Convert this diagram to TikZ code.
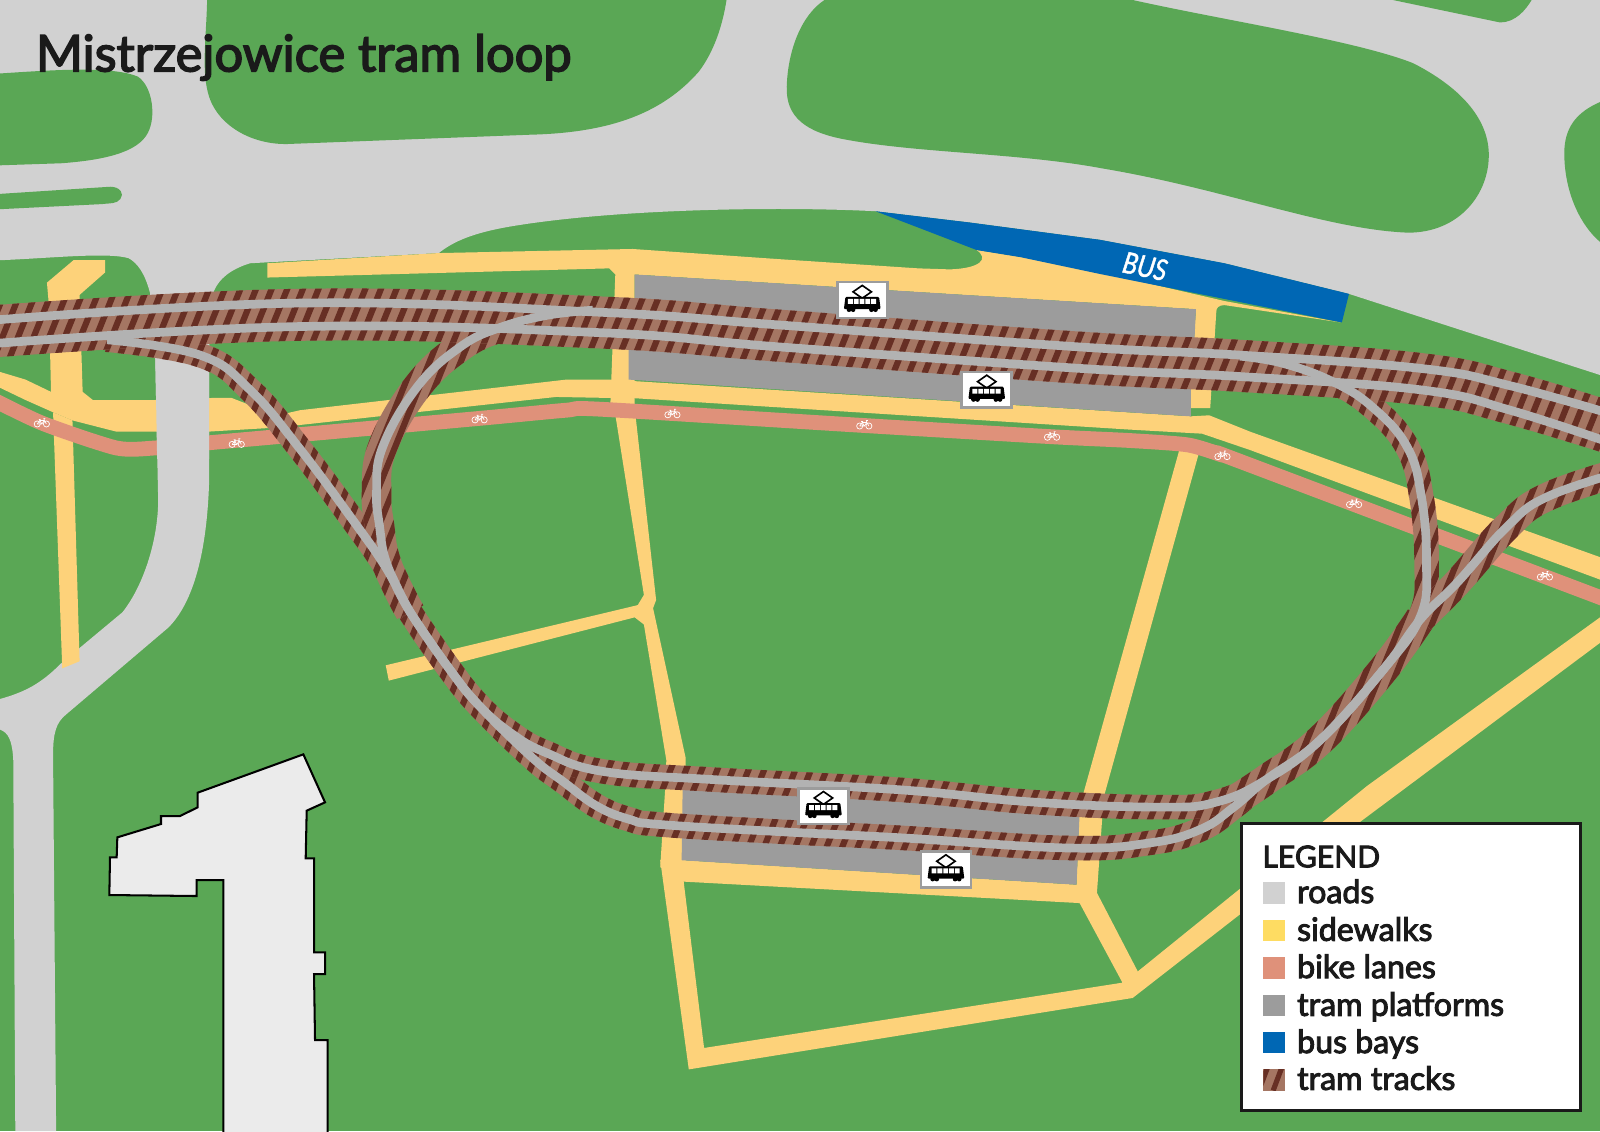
\documentclass[tikz,border=0pt]{standalone}
\usepackage{fontspec}
\setmainfont{Lato}
\newfontfamily\labelfont{Lato}[FakeBold=3]
\newfontfamily\busfont{Carlito}[FakeBold=1.5]
\definecolor{mapgreen}{HTML}{5AA755}
\definecolor{roadgray}{HTML}{D1D1D1}
\definecolor{walkyellow}{HTML}{FDD27A}
\definecolor{legyellow}{HTML}{FEDC62}
\definecolor{bikesalmon}{HTML}{DF917A}
\definecolor{platgray}{HTML}{9C9C9C}
\definecolor{busblue}{HTML}{0067B4}
\definecolor{trackbase}{HTML}{A57663}
\definecolor{trackdark}{HTML}{672F24}
\definecolor{railgray}{HTML}{B2B2B2}
\definecolor{inkblack}{HTML}{1A1A1A}
\definecolor{buildfill}{HTML}{EBEBEB}
\tikzset{
  railline/.style={draw=railgray,line width=8.5pt,line join=round},
  tramsign/.style={draw=platgray,fill=white,line width=2.5pt,minimum width=49pt,minimum height=35pt,inner sep=0pt},
  legsq/.style={minimum size=21pt,inner sep=0pt,anchor=north west},
  legtext/.style={anchor=base west,text=inkblack,inner sep=0pt,font=\labelfont\fontsize{31.5}{34}\selectfont},
}
\newcommand\hatchlines{\draw[trackdark,line width=6pt] foreach \k in {0,...,136} {(-470+15.3*\k,1120) -- ++(457,-1130)};}
\newcount\bandn
\newcommand\hatchband[2]{%
  \global\bandn=0
  \foreach \x/\y in #2 {\global\advance\bandn by 1
    \expandafter\xdef\csname bx\the\bandn\endcsname{\x}%
    \expandafter\xdef\csname by\the\bandn\endcsname{\y}}%
  \gdef\leftlist{}\gdef\rightlist{}%
  \edef\bandlast{\the\bandn}%
  \foreach \i in {1,...,\bandlast}{%
    \pgfmathtruncatemacro\ipv{max(\i-1,1)}%
    \pgfmathtruncatemacro\inx{min(\i+1,\bandlast)}%
    \pgfmathsetmacro\tx{\csname bx\inx\endcsname-(\csname bx\ipv\endcsname)}%
    \pgfmathsetmacro\ty{\csname by\inx\endcsname-(\csname by\ipv\endcsname)}%
    \pgfmathsetmacro\tl{veclen(\tx,\ty)}%
    \pgfmathsetmacro\ox{-\ty/\tl*#1/2}%
    \pgfmathsetmacro\oy{\tx/\tl*#1/2}%
    \pgfmathsetmacro\lx{\csname bx\i\endcsname+\ox}%
    \pgfmathsetmacro\ly{\csname by\i\endcsname+\oy}%
    \pgfmathsetmacro\rx{\csname bx\i\endcsname-\ox}%
    \pgfmathsetmacro\ry{\csname by\i\endcsname-\oy}%
    \xdef\leftlist{\leftlist (\lx,\ly)}%
    \xdef\rightlist{(\rx,\ry) \rightlist}%
  }%
  \xdef\bandclip{plot[smooth,tension=.7] coordinates {\leftlist} -- plot[smooth,tension=.7] coordinates {\rightlist}}%
  \begin{scope}
    \clip \bandclip -- cycle;
    \fill[trackbase] (-10,-10) rectangle (1590,1120);
    \hatchlines
  \end{scope}
}
\newcommand\railpath[1]{%
  \gdef\rl{}\foreach \x/\y in #1 {\xdef\rl{\rl (\x,\y)}}%
  \edef\railtmp{\noexpand\draw[railline] plot[smooth,tension=.7] coordinates {\rl};}\railtmp}
\newcommand\tramicon[1]{%
  \begin{scope}[shift={(#1)}]
    \draw[black,line width=1.6pt,fill=white,line join=miter] (0,-14.3) -- (9,-8) -- (0,-1.7) -- (-9,-8) -- cycle;
    \fill[black,rounded corners=1pt] (-16.5,-3) -- (16.5,-3) -- (18,9) -- (-18,9) -- cycle;
    \fill[black] (-13,9.5) circle (2.3) (-9,9.5) circle (2.3) (9,9.5) circle (2.3) (13,9.5) circle (2.3);
    \fill[white] foreach \w in {-14,-8.3,-2.6,3.1,8.8} {(\w,-1) rectangle ++(4.7,4.8)};
  \end{scope}}
\newcommand\bikeicon[1]{%
  \begin{scope}[shift={(#1)},white,line width=.7pt]
    \draw (-4.5,1.5) circle (3) (4.5,1.5) circle (3);
    \draw (-4.5,1.5) -- (-2,-2) -- (2.5,-2) -- (4.5,1.5) (-2,-2) -- (0,1.5) -- (-4.5,1.5) (0,1.5) -- (2.5,-2) -- (2,-4) -- (3.5,-4) (-3,-3) -- (-1.2,-3);
  \end{scope}}
\newcommand\PMain{-10/325,294/308.5,588/316,764/329,1058/350.5,1215/358.5,1392/371.5,1480/390,1590/423}
\newcommand\ROne{-10/314,294/297,588/306,764/318.5,1058/340,1215/348,1392/361,1480/378,1590/409}
\newcommand\RTwo{-10/337,294/320,588/326,764/340,1058/361,1215/369,1392/382,1480/402,1590/438}
\newcommand\PLower{105/333,196/348,245/382,294/440,346/510,378/556,402/600,440/655,470/692,521/742,552/766,585/790,617/803,647/808,764/815,882/821,1046/831,1127/826,1176/813,1209/791,1241/764,1294/725,1355/657,1392/607,1428/571,1477/516,1516/487,1590/462}
\newcommand\PUpper{402/600,440/655,470/692,503/720,536/738,591/756,699/764,882/774,1012/786,1137/791,1192/786,1241/764,1294/725,1355/657,1392/604,1398/552,1393/487,1379/438,1345/399,1306/374,1257/356,1215/349}
\newcommand\PLoop{402/600,389/575,377/546,372/516,369/483,375/438,409/379,451/340,490/321,536/309,581/304}
\newcommand\PTrunk{1209/785,1241/764,1294/725,1355/657,1392/606}
\newcommand\PFork{1392/607,1428/571,1477/516,1516/487,1590/462}
\begin{document}
\begin{tikzpicture}[x=1pt,y=-1pt]
\useasboundingbox (0,0) rectangle (1568,1108.4);
\clip (0,0) rectangle (1568,1108.4);
\fill[mapgreen] (0,0) rectangle (1568,1108.4);
% roads
\fill[roadgray] (0,0) -- (1568,0) -- (1568,367.5) -- (1322,288) -- (1200,258) -- (1078,235) -- (950,218) -- (858,207)
  .. controls (760,202) and (600,205) .. (500,222) .. controls (465,228) and (445,236) .. (430,248) -- (245,258)
  .. controls (232,262) and (215,270) .. (209,287) -- (205,340) -- (205,470) .. controls (203,540) and (190,590) .. (165,615)
  -- (65,700) .. controls (55,708) and (52,718) .. (52,740) -- (55,1108.4) -- (15,1108.4) -- (13,745) .. controls (12,725) and (8,718) .. (0,715)
  -- (0,685) .. controls (25,678) and (40,670) .. (60,650) -- (120,600) .. controls (140,575) and (155,530) .. (155,490) -- (152,345) -- (147,287)
  .. controls (142,268) and (135,258) .. (126,253) .. controls (105,247) and (50,253) .. (0,255) -- cycle;
% green islands
\fill[mapgreen] (0,72) .. controls (60,68) and (110,65) .. (135,75) .. controls (150,85) and (153,115) .. (145,130) .. controls (135,150) and (100,157) .. (60,160) -- (0,162) -- cycle;
\fill[mapgreen] (203,0) .. controls (202,40) and (197,70) .. (205,95) .. controls (215,125) and (250,143) .. (285,141) -- (520,132) .. controls (600,130) and (650,110) .. (685,70) .. controls (700,50) and (708,25) .. (712,0) -- cycle;
\fill[mapgreen] (808,0) .. controls (785,15) and (772,50) .. (771,85) .. controls (770,115) and (790,130) .. (830,137) .. controls (900,150) and (1000,150) .. (1080,165) .. controls (1200,185) and (1300,225) .. (1380,228) .. controls (1430,228) and (1460,190) .. (1459,150) .. controls (1458,115) and (1430,85) .. (1385,62) .. controls (1330,40) and (1200,20) .. (1110,0) -- cycle;
\fill[mapgreen] (1365,0) -- (1470,22) .. controls (1485,22) and (1495,10) .. (1501,0) -- cycle;
\fill[mapgreen] (1568,100) .. controls (1545,110) and (1533,125) .. (1533,150) .. controls (1533,190) and (1550,222) .. (1568,237) -- cycle;
\fill[mapgreen] (0,190) -- (108,183) .. controls (118,183) and (122,190) .. (118,195) .. controls (114,200) and (108,199) .. (100,200) -- (0,205) -- cycle;
% sidewalks
\fill[walkyellow] (262,258) -- (430,248) -- (620,244) -- (764,254) -- (900,263) -- (931,264) .. controls (960,263) and (970,254) .. (957,245)
  -- (1040,258) -- (1200,295) -- (1314,316) -- (1200,299) .. controls (1194,299) and (1192,302) .. (1192,305) -- (1186,400) -- (1166,400) -- (1172,303) -- (622,269) -- (622,400) -- (598,400) -- (603,269) -- (597,263) -- (262,272) -- cycle;
\fill[walkyellow] (46,277) -- (72,255) -- (103,255) -- (103,267) -- (78,289) -- (81,384) -- (91,392) -- (152,392) -- (208,390) -- (227,390) -- (245,397) -- (268,408) -- (294,402) -- (555,372) -- (598,372) -- (1167,408) -- (1185,407) -- (1225,423) -- (1568,546) -- (1568,568) -- (1225,441) -- (1178,425) -- (1160,424) -- (1107,421) -- (618,390) -- (598,390) -- (545,389) -- (271,419) -- (204,423) -- (152,423) -- (114,423) -- (71,412) -- (52,404) -- (25,392) -- (0,380) -- (0,364.5) -- (25,372) -- (50,384) -- (48,300) -- cycle;
\fill[walkyellow] (52,404) -- (71,412) -- (78,648) -- (61,655) -- cycle;
\fill[walkyellow] (602,400) -- (622,400) -- (643,588) -- (640,596) -- (672,743) -- (672,850) -- (647,850) -- (652,771) -- (653,745) -- (631,612) -- (622,605) -- (381,667) -- (378,652) -- (625,593) -- (631,583) -- cycle;
\fill[walkyellow] (1156,440) -- (1176,440) -- (1082,780) -- (1061,780) -- cycle;
\fill[walkyellow,even odd rule] (647,843) -- (669,843) -- (1055,867) -- (1058,790) -- (1081,790) -- (1075,875) -- (1115,952) -- (1340,770) -- (1568,605) -- (1568,630) -- (1300,830) -- (1110,978) -- (675,1048) -- cycle
  (670,864) -- (690,1027) -- (1100,963) -- (1058,885) -- cycle;
% bike lane
\draw[bikesalmon,line width=14.5pt,line join=round] plot[smooth,tension=.4] coordinates {(-10,390) (42,415) (114,439) (152,439) (204,434) (271,428) (470,410) (555,402) (588,401) (847,417) (1031,428) (1107,431.7) (1164,436) (1198,446) (1215,452) (1580,590)};
\foreach \bx/\by in {41/414,232/434,470/410,659/405,847/416,1031/427,1198/446,1327/493,1514/564} {\bikeicon{\bx,\by}}
% vertical road over paths
\fill[roadgray] (152,340) -- (205,340) -- (205,450) -- (154,450) -- cycle;
% platforms
\fill[platgray] (622,269) -- (1172,303) -- (1170,345) -- (622,305) -- cycle;
\fill[platgray] (616,340) -- (1167,375) -- (1167,408) -- (616,372) -- cycle;
\fill[platgray] (669,772) -- (1058,797) -- (1055,867) -- (668,843) -- cycle;
% bus bay
\fill[busblue] (858,207) -- (950,218) -- (1078,235) -- (1200,258) -- (1322,288) -- (1315,316) -- (1200,293) -- (1078,268.5) -- (1000,252) -- (957,245) -- (905,225) -- cycle;
\node[rotate=-12,text=white,inner sep=0pt,xscale=.82,font=\busfont\itshape\fontsize{32}{34}\selectfont] (bustext) at (1122,261) {BUS};
% building
\begin{scope}[shift={(88.2,715.4)},x=0.3267pt,y=-0.3267pt]
\draw[black,line width=2pt,fill=buildfill,line join=miter] (640,73) -- (705,217) -- (650,242) -- (647,385) -- (672,385) -- (672,667) -- (705,667) -- (705,732) -- (672,732) -- (675,930) -- (713,930) -- (713,1240) -- (400,1240) -- (400,450) -- (320,450) -- (320,498) -- (58,495) -- (60,382) -- (80,382) -- (82,322) -- (213,282) -- (213,258) -- (270,258) -- (323,232) -- (323,188) -- cycle;
\end{scope}
% track bands
\hatchband{24}{\PLower}
\hatchband{24}{\PUpper}
\hatchband{29}{\PLoop}
\hatchband{30}{\PTrunk}
\hatchband{28}{\PFork}
\hatchband{51}{\PMain}
% rails
\railpath{\PLower}
\railpath{\PUpper}
\railpath{\PLoop}
\railpath{\ROne}
\railpath{\RTwo}
% tram signs
\node[tramsign] (t1) at (845,294) {};
\node[tramsign] (t2) at (967,382) {};
\node[tramsign] (t3) at (807,790) {};
\node[tramsign] (t4) at (927,852) {};
\tramicon{t1}\tramicon{t2}\tramicon{t3}\tramicon{t4}
% title
\node[anchor=base west,inner sep=0pt,text=inkblack,font=\labelfont\fontsize{49.6}{52}\selectfont] (title) at (35,70) {Mistrzejowice tram loop};
% legend
\node[draw=inkblack,fill=white,line width=3pt,anchor=north west,minimum width=332pt,minimum height=281pt,inner sep=0pt] (legendbox) at (1215.5,805.5) {};
\node[legtext,font=\labelfont\fontsize{29.5}{34}\selectfont] (lg0) at (1237,850) {LEGEND};
\node[legsq,fill=roadgray] (sq1) at (1238,864.5) {};
\node[legsq,fill=legyellow] (sq2) at (1238,901) {};
\node[legsq,fill=bikesalmon] (sq3) at (1238,938) {};
\node[legsq,fill=platgray] (sq4) at (1238,974.5) {};
\node[legsq,fill=busblue] (sq5) at (1238,1011) {};
\node[legsq,fill=trackbase,path picture={\draw[trackdark,line width=5pt] ([xshift=-1pt]path picture bounding box.south) -- ++(9,-24);\draw[trackdark,line width=5pt] ([xshift=-15pt]path picture bounding box.south) -- ++(9,-24);}] (sq6) at (1238,1047.5) {};
\node[legtext] (lg1) at (1271,885) {roads};
\node[legtext] (lg2) at (1271,922) {sidewalks};
\node[legtext] (lg3) at (1271,958.5) {bike lanes};
\node[legtext] (lg4) at (1271,995.5) {tram platforms};
\node[legtext] (lg5) at (1271,1032) {bus bays};
\node[legtext] (lg6) at (1271,1068) {tram tracks};
\end{tikzpicture}
\end{document}
